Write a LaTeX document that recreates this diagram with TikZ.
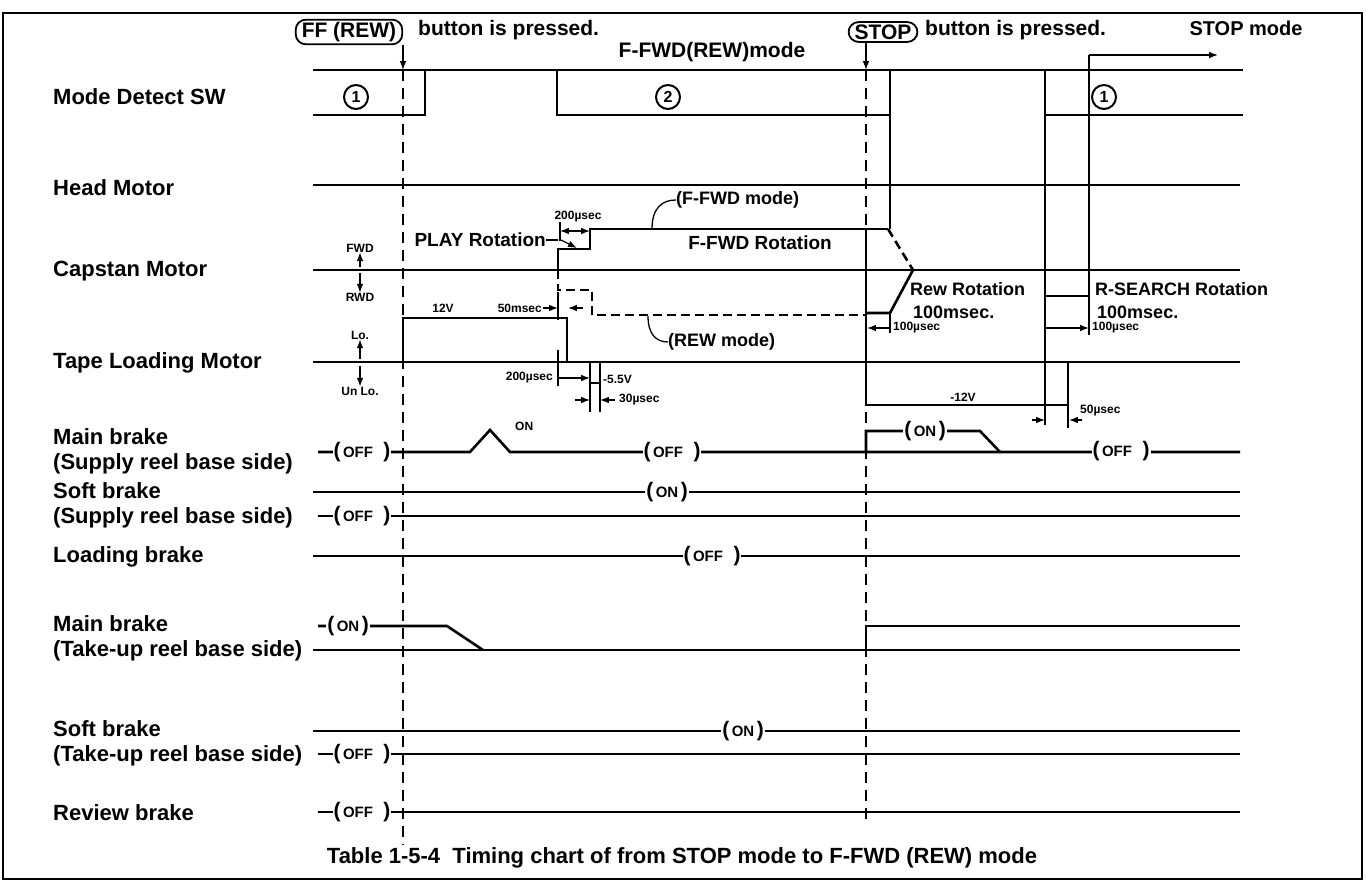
\documentclass[tikz,border=0pt]{standalone}
\usepackage{fontspec}
\setmainfont{Liberation Sans}
\usetikzlibrary{arrows.meta}
\newcommand\fsz[1]{\fontsize{#1}{#1}\selectfont\bfseries}
\newcommand\brk[1]{{\fontsize{21}{21}\selectfont(}\,#1\,{\fontsize{21}{21}\selectfont)}}

\begin{document}
\begin{tikzpicture}[x=1pt,y=-1pt]
    \tikzset{
        rowlbl/.style={anchor=west, inner sep=0, align=left, font=\fontsize{22}{25}\selectfont\bfseries},
        note/.style={inner sep=0, font=\fsz{18}},
        dimtxt/.style={inner sep=0, font=\fsz{12}},
        tag/.style={fill=white, inner xsep=1pt, inner ysep=0, font=\fsz{15}},
        btn/.style={draw, line width=1.8pt, rounded corners=10pt, inner xsep=6pt, inner ysep=2.5pt, font=\fsz{21}},
        numc/.style={circle, draw, line width=2pt, minimum size=24pt, inner sep=0, font=\fsz{16}},
        sig/.style={line width=2.6pt},
        dimln/.style={line width=1.3pt},
        guide/.style={line width=2pt, dash pattern=on 11pt off 7pt},
        dsig/.style={line width=2.6pt, dash pattern=on 9pt off 5pt}
    }
    \useasboundingbox (0,0) rectangle (1366,882);
    \draw[line width=2pt] (3,13) rectangle (1362,879);

    % row labels
    \draw node[rowlbl] (mds) at (53,97) {Mode Detect SW};
    \draw node[rowlbl] (hdm) at (53,188) {Head Motor};
    \draw node[rowlbl] (cpm) at (53,271) {Capstan Motor};
    \draw node[rowlbl] (tlm) at (53,363) {Tape Loading Motor};
    \draw node[rowlbl] (mbs) at (53,451) {Main brake\\(Supply reel base side)};
    \draw node[rowlbl] (sbs) at (53,505) {Soft brake\\(Supply reel base side)};
    \draw node[rowlbl] (ldb) at (53,557) {Loading brake};
    \draw node[rowlbl] (mbt) at (53,638) {Main brake\\(Take-up reel base side)};
    \draw node[rowlbl] (sbt) at (53,743) {Soft brake\\(Take-up reel base side)};
    \draw node[rowlbl] (rvb) at (53,813) {Review brake};

    % top notes
    \draw node[btn] (ffbtn) at (349,32) {FF (REW)};
    \draw node[anchor=west, inner sep=0, font=\fsz{21}] (ffpress) at (418,30) {button is pressed.};
    \draw node[btn] (stopbtn) at (883,32) {STOP};
    \draw node[anchor=west, inner sep=0, font=\fsz{21}] (stoppress) at (925,30) {button is pressed.};
    \draw node[note, font=\fsz{21}] (ffwdmode) at (712,52) {F-FWD(REW)mode};
    \draw node[note, font=\fsz{20}] (stopmode) at (1246,28) {STOP mode};
    \draw[dimln,-{Latex}] (1089,55) -- (1218,55);

    % guide lines
    \coordinate (g1top) at (403,70);
    \coordinate (g1bot) at (403,845);
    \coordinate (g2top) at (866,70);
    \coordinate (g2bot) at (866,822);
    \draw[dimln,-{Latex}] (ffbtn.south -| g1top) -- (g1top);
    \draw[dimln,-{Latex}] (stopbtn.south -| g2top) -- (g2top);
    \draw[guide] (g1top) -- (g1bot);
    \draw[guide] (g2top) -- (g2bot);

    % Mode Detect SW
    \draw[sig] (313,70) -- (1243,70);
    \draw[sig] (313,115) -- (425,115) -- (425,70);
    \draw[sig] (557,70) -- (557,115) -- (890,115);
    \draw[sig] (890,70) -- (890,229);
    \draw[sig] (1045,70) -- (1045,115) -- (1243,115);
    \draw node[numc] (st1) at (356,97) {1};
    \draw node[numc] (st2) at (668,97) {2};
    \draw node[numc] (st3) at (1104,97) {1};

    % Head Motor
    \draw[sig] (313,185) -- (1240,185);

    % Capstan Motor
    \draw[sig] (313,270) -- (1240,270);
    \draw[sig] (558,270) -- (558,249) -- (590,249) -- (590,229) -- (888,229);
    \draw[dsig] (888,229) -- (913,270);
    \draw[sig] (913,270) -- (890,313) -- (866,313);
    \draw[dsig] (558,270) -- (558,290) -- (592,290) -- (592,315) -- (866,315);
    \draw[sig] (866,229) -- (866,405);
    \draw[sig] (1045,115) -- (1045,296) -- (1089,296) -- (1089,55);
    \draw[dimln] (1045,296) -- (1045,425);
    \draw[dimln] (1089,296) -- (1089,335);
    \draw[dimln] (890,313) -- (890,333);
    \draw[dimln,-{Latex}] (1045,328) -- (1089,328);
    \draw[dimln,-{Latex}] (890,328) -- (867,328);
    \draw node[dimtxt, anchor=west] (us1) at (893,328) {100µsec};
    \draw node[dimtxt, anchor=west] (us2) at (1092,328) {100µsec};
    \draw node[note, anchor=west] (rewrot) at (910,289) {Rew Rotation};
    \draw node[note, anchor=west] (ms1) at (913,312) {100msec.};
    \draw node[note, anchor=west] (rsrot) at (1095,289) {R-SEARCH Rotation};
    \draw node[note, anchor=west] (ms2) at (1097,312) {100msec.};
    \draw node[note, font=\fsz{19}] (ffrot) at (760,243) {F-FWD Rotation};
    \draw node[note, anchor=east, font=\fsz{19}] (playrot) at (546,240) {PLAY Rotation};
    \draw[dimln] (playrot.east) -- (558,240);
    \draw[dimln,-{Latex}] (561,240) -- (577,248);
    \draw node[dimtxt] (us200a) at (578,217) {200µsec};
    \draw[dimln] (560,222) -- (560,241);
    \draw[dimln,{Latex}-{Latex}] (560,231) -- (590,231);
    \draw node[note, anchor=west] (ffwdm) at (676,200) {(F-FWD mode)};
    \draw[dimln] (652,229) .. controls (652,208) and (662,200) .. (ffwdm.west);
    \draw node[note, anchor=west] (rewm) at (668,342) {(REW mode)};
    \draw[dimln] (648,316) .. controls (648,334) and (656,342) .. (rewm.west);
    \draw node[dimtxt] (fwd) at (360,248) {FWD};
    \draw node[dimtxt] (rwd) at (360,297) {RWD};
    \draw[dimln,-{Latex}] (360,267) -- (fwd.south);
    \draw[dimln,-{Latex}] (360,273) -- (rwd.north);

    % Tape Loading Motor
    \draw[sig] (313,362) -- (1240,362);
    \draw[sig] (403,362) -- (403,318) -- (567,318) -- (567,362);
    \draw[sig] (590,362) -- (590,383) -- (600,383) -- (600,362);
    \draw[dimln] (590,383) -- (590,412);
    \draw[dimln] (600,383) -- (600,412);
    \draw node[dimtxt, anchor=west] (v55) at (603,379) {-5.5V};
    \draw[dimln,-{Latex}] (575,400) -- (590,400);
    \draw[dimln,-{Latex}] (615,400) -- (600,400);
    \draw node[dimtxt, anchor=west] (us30) at (619,400) {30µsec};
    \draw node[dimtxt, anchor=east] (us200b) at (553,378) {200µsec};
    \draw[dimln] (558,350) -- (558,386);
    \draw[dimln,-{Latex}] (558,378) -- (590,378);
    \draw node[dimtxt] (v12) at (443,308) {12V};
    \draw node[dimtxt, anchor=east] (ms50) at (542,308) {50msec};
    \draw[dimln] (558,292) -- (558,320);
    \draw[dimln,-{Latex}] (543,308) -- (558,308);
    \draw[dimln,-{Latex}] (583,308) -- (568,308);
    \draw node[dimtxt] (lo) at (360,335) {Lo.};
    \draw node[dimtxt] (unlo) at (360,391) {Un Lo.};
    \draw[dimln,-{Latex}] (360,359) -- (lo.south);
    \draw[dimln,-{Latex}] (360,366) -- (unlo.north);
    \draw[sig] (866,362) -- (866,405) -- (1068,405) -- (1068,362);
    \draw node[dimtxt] (vm12) at (963,397) {-12V};
    \draw[dimln] (1068,405) -- (1068,428);
    \draw[dimln,-{Latex}] (1032,420) -- (1045,420);
    \draw[dimln,-{Latex}] (1082,420) -- (1069,420);
    \draw node[dimtxt, anchor=west] (us50) at (1080,411) {50µsec};

    % Main brake (supply)
    \draw[sig] (318,452) -- (470,452) -- (490,430) -- (510,452) -- (1240,452);
    \draw node[dimtxt, anchor=west] (bon) at (515,426) {ON};
    \draw[sig] (866,452) -- (866,431) -- (980,431) -- (1000,452);
    \draw node[tag] (t1) at (362,452) {\brk{OFF\hspace{8pt}}};
    \draw node[tag] (t2) at (672,452) {\brk{OFF\hspace{8pt}}};
    \draw node[tag] (t3) at (925,431) {\brk{ON}};
    \draw node[tag] (t4) at (1121,451) {\brk{OFF\hspace{8pt}}};

    % Soft brake (supply)
    \draw[sig] (313,492) -- (1240,492);
    \draw[sig] (318,516) -- (1240,516);
    \draw node[tag] (t5) at (667,492) {\brk{ON}};
    \draw node[tag] (t6) at (362,516) {\brk{OFF\hspace{8pt}}};

    % Loading brake
    \draw[sig] (313,556) -- (1240,556);
    \draw node[tag] (t7) at (712,556) {\brk{OFF\hspace{8pt}}};

    % Main brake (take-up)
    \draw[sig] (318,626) -- (447,626) -- (483,650);
    \draw[sig] (313,650) -- (1240,650);
    \draw[sig] (866,650) -- (866,626) -- (1240,626);
    \draw node[tag] (t8) at (348,626) {\brk{ON}};

    % Soft brake (take-up)
    \draw[sig] (313,731) -- (1240,731);
    \draw[sig] (318,754) -- (1240,754);
    \draw node[tag] (t9) at (743,731) {\brk{ON}};
    \draw node[tag] (t10) at (362,754) {\brk{OFF\hspace{8pt}}};

    % Review brake
    \draw[sig] (318,812) -- (1240,812);
    \draw node[tag] (t11) at (362,812) {\brk{OFF\hspace{8pt}}};

    \draw node[inner sep=0, font=\fsz{22}] (caption) at (682,858) {Table 1-5-4\ \ Timing chart of from STOP mode to F-FWD (REW) mode};
\end{tikzpicture}
\end{document}
